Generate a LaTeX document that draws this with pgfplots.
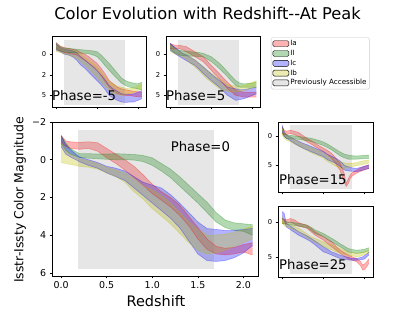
\documentclass[border=0pt]{standalone}
\usepackage{fontspec}
\setmainfont{DejaVu Sans}
\usepackage{pgfplots}
\pgfplotsset{compat=1.18}
\usepackage{pgfplotstable}
\usepgfplotslibrary{fillbetween}

\definecolor{cR}{rgb}{1,0,0}
\definecolor{cG}{rgb}{0,0.5,0}
\definecolor{cB}{rgb}{0,0,1}
\definecolor{cY}{rgb}{0.75,0.75,0}
\definecolor{cK}{rgb}{0.5,0.5,0.5}

% Phase = 0 (main)
\pgfplotstableread{
x     rU    rL    gU    gL    bU    bL    yU    yL
0.00 -1.28 -0.90 -1.28 -0.85 -1.28 -0.70 -0.90 0.15
0.05 -1.00 -0.70 -0.90 -0.50 -0.80 -0.30 -0.50 0.20
0.10 -0.95 -0.60 -0.60 -0.30 -0.55 -0.15 -0.30 0.25
0.20 -0.92 -0.55 -0.32 -0.12 -0.15 0.10 -0.05 0.35
0.30 -0.95 -0.60 -0.32 -0.08 0.00 0.30 0.05 0.40
0.40 -0.90 -0.45 -0.30 -0.05 0.15 0.45 0.20 0.50
0.50 -0.60 -0.10 -0.30 -0.02 0.35 0.70 0.40 0.70
0.60 -0.30 0.20 -0.32 0.00 0.45 0.90 0.55 0.90
0.70 0.00 0.55 -0.30 0.00 0.60 1.10 0.70 1.20
0.80 0.35 0.95 -0.28 0.02 0.90 1.50 1.00 1.70
0.90 0.80 1.35 -0.22 0.10 1.20 1.90 1.40 2.10
1.00 1.30 1.80 -0.10 0.30 1.35 2.30 1.60 2.60
1.10 1.70 2.15 0.20 0.60 1.50 2.70 1.90 3.00
1.20 2.00 2.50 0.50 0.95 1.85 3.10 2.30 3.40
1.30 2.40 2.95 0.90 1.40 2.30 3.60 2.80 3.90
1.40 3.00 3.50 1.35 1.85 2.80 4.30 3.30 4.40
1.50 3.60 4.20 1.80 2.30 3.30 5.00 3.70 4.80
1.60 4.20 4.75 2.25 2.80 3.65 5.35 4.00 5.00
1.70 4.60 5.00 2.80 3.30 3.70 5.40 4.00 4.95
1.80 4.70 5.05 3.20 3.60 3.75 5.35 3.95 4.80
1.90 4.65 5.00 3.35 3.75 3.75 5.20 3.85 4.60
2.00 4.50 4.90 3.40 3.80 3.70 4.95 3.70 4.40
2.10 4.40 5.05 3.45 4.00 3.65 4.55 3.50 4.20
}\tzero

% Phase = -5
\pgfplotstableread{
x     rU    rL    gU    gL    bU    bL    yU    yL
0.00 -1.40 -0.60 -1.40 -0.70 -1.20 -0.50 -1.10 -0.30
0.10 -1.00 -0.40 -0.90 -0.40 -0.80 -0.30 -0.80 -0.20
0.20 -0.80 -0.20 -0.75 -0.25 -0.60 0.00 -0.60 0.00
0.30 -0.70 -0.10 -0.70 -0.20 -0.50 0.10 -0.50 0.10
0.40 -0.60 0.00 -0.65 -0.20 -0.40 0.30 -0.40 0.30
0.50 -0.50 0.10 -0.60 -0.15 -0.20 0.70 -0.30 0.50
0.60 -0.20 0.40 -0.55 -0.10 0.30 1.30 0.00 0.90
0.70 0.00 0.70 -0.50 -0.10 0.70 1.70 0.40 1.30
0.80 0.30 1.10 -0.45 -0.05 1.10 2.20 0.80 1.80
0.90 0.70 1.50 -0.40 0.10 1.50 2.70 1.10 2.30
1.00 1.10 1.90 -0.30 0.30 2.00 3.20 1.50 2.80
1.10 1.70 2.60 0.10 0.80 2.50 3.70 2.10 3.30
1.20 2.40 3.30 0.60 1.40 3.10 4.30 2.80 3.90
1.30 3.20 4.00 1.10 1.95 3.80 5.00 3.30 4.40
1.40 3.60 4.40 1.70 2.50 4.20 5.30 3.60 4.80
1.50 4.00 4.80 2.30 3.00 4.50 5.60 3.90 4.90
1.60 4.20 4.90 2.90 3.50 4.80 5.80 4.00 5.00
1.70 4.30 5.00 3.20 3.80 4.85 5.85 4.10 4.90
1.80 4.40 5.00 3.40 4.00 4.85 5.80 4.20 4.80
1.90 4.50 5.10 3.50 4.10 4.80 5.80 4.10 4.60
2.00 4.55 5.15 3.60 4.20 4.60 5.60 3.80 4.40
2.10 4.60 5.20 3.40 4.30 4.40 5.40 3.60 4.30
}\tmfive

% Phase = 5
\pgfplotstableread{
x     rU    rL    gU    gL    bU    bL    yU    yL
0.00 -1.30 -0.70 -1.30 -0.70 -1.30 -0.50 -1.10 -0.30
0.10 -1.10 -0.60 -0.80 -0.20 -0.90 -0.10 -0.70 -0.10
0.20 -1.10 -0.70 -0.50 0.10 -0.50 0.20 -0.40 0.10
0.30 -1.00 -0.55 -0.40 0.15 -0.10 0.50 -0.10 0.30
0.40 -0.90 -0.30 -0.35 0.20 0.10 0.80 0.10 0.60
0.50 -0.60 0.00 -0.30 0.25 0.40 1.10 0.40 1.10
0.60 -0.30 0.30 -0.25 0.25 0.70 1.35 0.70 1.55
0.70 0.00 0.60 -0.20 0.30 1.10 1.80 1.10 2.00
0.80 0.30 0.90 -0.10 0.30 1.50 2.30 1.50 2.50
0.90 0.80 1.40 0.10 0.60 1.95 2.75 1.95 3.00
1.00 1.35 1.95 0.30 0.90 2.40 3.20 2.30 3.40
1.10 1.85 2.50 0.70 1.30 2.80 3.60 2.70 3.80
1.20 2.35 3.00 1.10 1.75 3.20 4.00 3.00 4.20
1.30 2.90 3.60 1.60 2.25 3.60 4.50 3.40 4.40
1.40 3.40 4.20 2.15 2.75 4.00 5.00 3.70 4.50
1.50 3.90 4.60 2.70 3.30 4.10 5.30 3.80 4.60
1.60 4.40 5.00 3.20 3.80 4.20 5.60 3.85 4.55
1.70 4.50 5.10 3.50 4.00 4.30 5.50 3.85 4.50
1.80 4.60 5.20 3.60 4.00 4.30 5.40 3.80 4.40
1.90 4.60 5.20 3.55 4.00 4.20 5.20 3.60 4.30
2.00 4.60 5.20 3.50 4.00 4.10 5.00 3.40 4.10
2.10 4.60 5.20 3.40 4.00 4.00 4.80 3.20 4.00
}\tpfive

% Phase = 15
\pgfplotstableread{
x     rU    rL    gU    gL    bU    bL    yU    yL
0.00 -1.60 -0.40 -1.60 -0.50 -1.90 -0.80 -1.30 -0.20
0.05 -1.00 -0.20 -0.60 0.10 -0.70 0.00 -0.60 0.40
0.10 -0.80 -0.20 -0.20 0.40 -0.20 0.40 -0.20 0.70
0.20 -1.00 -0.45 -0.10 0.50 0.20 0.80 0.20 1.00
0.30 -0.80 -0.20 0.00 0.50 0.60 1.30 0.60 1.40
0.40 -0.60 0.10 0.10 0.60 0.90 1.70 1.00 1.80
0.50 -0.10 0.55 0.20 0.70 1.25 2.10 1.40 2.10
0.60 0.40 1.00 0.30 0.80 1.50 2.40 1.70 2.50
0.70 0.80 1.40 0.40 0.95 1.80 2.70 2.00 2.90
0.80 1.25 1.85 0.60 1.15 2.10 3.00 2.30 3.20
0.90 1.70 2.30 0.80 1.40 2.40 3.30 2.60 3.50
1.00 2.10 2.70 1.05 1.65 2.70 3.55 3.00 3.85
1.10 2.50 3.20 1.40 2.00 3.20 4.10 3.40 4.40
1.20 3.00 3.85 1.85 2.40 3.50 4.40 3.70 4.80
1.30 3.80 4.80 2.30 2.90 3.85 4.70 4.10 5.20
1.40 4.70 5.90 2.75 3.40 4.30 5.20 4.40 5.60
1.50 6.40 7.90 3.10 3.75 5.00 5.85 4.60 5.60
1.55 8.20 8.70 3.20 3.85 5.20 5.95 4.65 5.50
1.60 7.40 8.20 3.30 4.00 5.30 6.00 4.70 5.40
1.65 6.70 7.30 3.35 4.00 5.40 6.05 4.70 5.30
1.70 6.30 6.90 3.40 4.00 5.50 6.10 4.70 5.30
1.80 5.90 6.40 3.45 4.00 5.60 6.15 4.60 5.10
1.90 5.50 6.10 3.40 3.95 5.40 6.00 4.40 5.00
2.00 5.20 5.80 3.35 3.90 5.20 5.80 4.25 4.85
2.10 5.00 5.60 3.30 3.90 5.00 5.60 4.15 4.70
}\tfifteen

% Phase = 25
\pgfplotstableread{
x     rU    rL    gU    gL    bU    bL    yU    yL
0.00 -0.50 0.20 -0.50 0.20 -1.50 -0.55 -0.75 0.20
0.05 -0.40 0.20 -0.20 0.30 -1.25 -0.30 -0.20 0.50
0.10 -0.30 0.20 -0.05 0.30 0.20 0.70 0.20 0.70
0.20 -0.50 0.00 0.05 0.40 0.60 1.10 0.40 0.90
0.30 -0.30 0.30 0.10 0.50 1.00 1.50 0.65 1.15
0.40 0.10 0.60 0.20 0.60 1.40 1.90 0.90 1.40
0.50 0.30 0.75 0.30 0.70 1.70 2.20 1.30 1.80
0.60 0.45 0.90 0.45 0.80 2.00 2.50 1.70 2.20
0.70 0.90 1.40 0.75 1.20 2.35 2.85 2.10 2.60
0.80 1.40 1.90 1.15 1.65 2.75 3.30 2.35 2.90
0.90 1.75 2.25 1.40 1.90 3.15 3.80 2.60 3.20
1.00 2.10 2.60 1.65 2.10 3.55 4.30 2.85 3.55
1.10 2.50 3.10 2.00 2.50 3.90 4.50 3.10 3.80
1.20 2.85 3.55 2.35 2.85 4.30 4.75 3.30 4.00
1.30 3.45 4.00 2.70 3.20 4.50 5.00 3.55 4.30
1.40 4.05 4.50 3.10 3.55 4.75 5.25 3.80 4.45
1.50 4.40 4.90 3.45 3.90 4.95 5.35 4.05 4.60
1.60 4.75 5.25 3.80 4.30 5.10 5.45 4.30 4.75
1.70 5.00 5.50 3.95 4.40 5.25 5.50 4.40 4.85
1.80 5.25 5.70 4.05 4.50 5.25 5.50 4.50 5.00
1.90 5.70 6.30 4.00 4.45 5.10 5.45 4.40 4.90
1.95 6.20 6.90 3.95 4.40 5.00 5.40 4.35 4.80
2.00 6.00 6.80 3.90 4.30 4.80 5.30 4.25 4.65
2.05 5.70 6.40 3.80 4.20 4.60 5.00 4.15 4.55
2.10 5.30 5.95 3.70 4.15 4.30 4.75 4.05 4.50
}\ttwentyfive

\newcommand{\band}[5]{%
 \addplot[draw=#4, draw opacity=0.3, line width=0.65bp, name path=#5u, forget plot] table[x=x,y=#2]{#1};
 \addplot[draw=#4, draw opacity=0.3, line width=0.65bp, name path=#5l, forget plot] table[x=x,y=#3]{#1};
 \addplot[fill=#4, fill opacity=0.3, draw=none, forget plot] fill between[of=#5u and #5l];
}
\newcommand{\allbands}[2]{%
 \band{#1}{rU}{rL}{cR}{#2r}
 \band{#1}{gU}{gL}{cG}{#2g}
 \band{#1}{bU}{bL}{cB}{#2b}
 \band{#1}{yU}{yL}{cY}{#2y}
}
\newcommand{\lf}{\fontsize{7.2}{8}\selectfont}
\newcommand{\smf}{\fontsize{6.8}{7}\selectfont}

\pgfplotsset{
 base/.style={scale only axis, anchor=south west, y dir=reverse,
   tick align=outside, tick pos=left, major tick length=2.3bp,
   axis line style={line width=0.5bp}, tick style={black, line width=0.5bp},
   axis on top},
 small/.style={xmin=-0.1, xmax=2.2, xtick={0,1,2}, xticklabels={{},{},{}}},
}
\newcommand{\phaselabel}[2]{\node[anchor=base west, inner sep=0pt, font=\fontsize{13.3}{14}\selectfont] at (axis description cs:#1) {#2};}

\begin{document}
\begin{tikzpicture}

\node[font=\fontsize{16.3}{18}\selectfont] at (207.5bp,297.5bp) {Color Evolution with Redshift-{}-At Peak};

% Phase -5
\begin{axis}[base, small, at={(52bp,204bp)}, width=94bp, height=71bp,
  ymin=-2.2, ymax=6.4, ytick={0,2.5,5}, yticklabels={\mbox{\smf 0},\mbox{\smf 2},\mbox{\smf 5}}]
\addplot[fill=cK, fill opacity=0.2, draw=none, forget plot] coordinates {(0.19,-1.7) (1.68,-1.7) (1.68,6.2) (0.19,6.2)};
\allbands{\tmfive}{a}
\phaselabel{0,0.09}{Phase=-5}
\end{axis}

% Phase 5 (with legend)
\begin{axis}[base, small, at={(166bp,204bp)}, width=94.5bp, height=71bp,
  ymin=-2.2, ymax=6.4, ytick={0,2.5,5}, yticklabels={\mbox{\smf 0},\mbox{\smf 2},\mbox{\smf 5}},
  legend image code/.code={\fill[#1] (0bp,-3bp) rectangle (16bp,3bp);},
  legend style={at={(1.111,0.982)}, anchor=north west, font=\lf,
    draw=black!20, rounded corners=1.5bp, inner xsep=1.5bp, inner ysep=1.5bp, row sep=0.3bp,
    cells={anchor=west}, nodes={font=\lf, inner sep=1.2bp, text height=5.5bp, text depth=1.6bp}}]
\addplot[fill=cK, fill opacity=0.2, draw=none, forget plot] coordinates {(0.19,-1.7) (1.68,-1.7) (1.68,6.2) (0.19,6.2)};
\allbands{\tpfive}{b}
\phaselabel{0,0.09}{Phase=5}
\addlegendimage{fill=cR, fill opacity=0.3}\addlegendentry{\lf Ia}
\addlegendimage{fill=cG, fill opacity=0.3}\addlegendentry{\lf II}
\addlegendimage{fill=cB, fill opacity=0.3}\addlegendentry{\lf Ic}
\addlegendimage{fill=cY, fill opacity=0.3}\addlegendentry{\lf Ib}
\addlegendimage{fill=cK, fill opacity=0.2}\addlegendentry{\lf Previously Accessible}
\end{axis}

% Phase 0 (main)
\begin{axis}[base, at={(52bp,35bp)}, width=206bp, height=154bp,
  xmin=-0.1, xmax=2.16, ymin=-2, ymax=6.17,
  xtick={0,0.5,1,1.5,2},
  xticklabels={\mbox{0.0},\mbox{0.5},\mbox{1.0},\mbox{1.5},\mbox{2.0}},
  ytick={-2,0,2,4,6}, yticklabels={\mbox{−2},\mbox{0},\mbox{2},\mbox{4},\mbox{6}},
  ticklabel style={font=\fontsize{9.5}{10}\selectfont}]
\addplot[fill=cK, fill opacity=0.2, draw=none, forget plot] coordinates {(0.19,-1.6) (1.68,-1.6) (1.68,5.8) (0.19,5.8)};
\allbands{\tzero}{c}
\phaselabel{0.576,0.807}{Phase=0}
\end{axis}

% Phase 15
\begin{axis}[base, small, at={(278bp,119bp)}, width=95bp, height=70bp,
  ymin=-2.4, ymax=9.65, ytick={0,5}, yticklabels={\mbox{\smf 0},\mbox{\smf 5}}]
\addplot[fill=cK, fill opacity=0.2, draw=none, forget plot] coordinates {(0.18,-1.9) (1.68,-1.9) (1.68,9.1) (0.18,9.1)};
\allbands{\tfifteen}{d}
\phaselabel{0.01,0.1}{Phase=15}
\end{axis}

% Phase 25
\begin{axis}[base, small, at={(278bp,34bp)}, width=95bp, height=71bp,
  ymin=-2.3, ymax=7.9, ytick={0,5}, yticklabels={\mbox{\smf 0},\mbox{\smf 5}}]
\addplot[fill=cK, fill opacity=0.2, draw=none, forget plot] coordinates {(0.18,-1.8) (1.68,-1.8) (1.68,7.5) (0.18,7.5)};
\allbands{\ttwentyfive}{e}
\phaselabel{0.01,0.1}{Phase=25}
\end{axis}

\node[font=\fontsize{14.5}{16}\selectfont] at (156bp,9.5bp) {Redshift};
\node[rotate=90, font=\fontsize{12.5}{14}\selectfont] at (20bp,111bp) {Isstr-Issty Color Magnitude};
\path (0,0) rectangle (415bp,311bp);
\end{tikzpicture}
\end{document}
